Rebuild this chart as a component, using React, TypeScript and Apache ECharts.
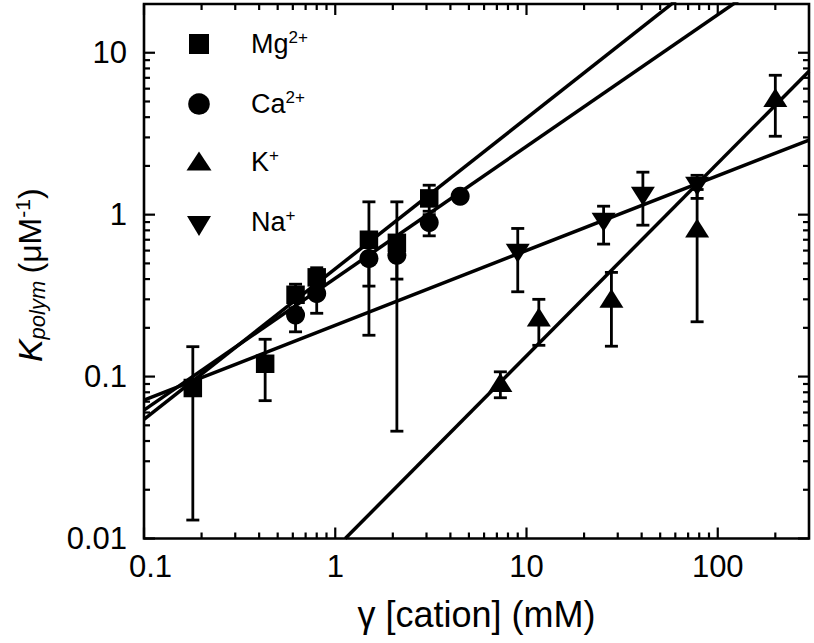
import React, { useEffect, useRef } from 'react';
import * as echarts from 'echarts';

// ---- data ----
const mgX = [0.18, 0.43, 0.62, 0.8, 1.5, 2.1, 3.1];
const mgY = [0.085, 0.12, 0.32, 0.41, 0.7, 0.67, 1.26];
const mgLow = [0.013, 0.071, 0.265, 0.36, 0.18, 0.046, 1.0];
const mgHigh = [0.153, 0.17, 0.372, 0.47, 1.2, 1.2, 1.52];

const caX = [0.62, 0.8, 1.5, 2.1, 3.1, 4.5];
const caY = [0.24, 0.326, 0.536, 0.562, 0.895, 1.3];
const caLow = [0.189, 0.246, 0.362, 0.4, 0.74, 1.25];
const caHigh = [0.29, 0.41, 0.71, 0.72, 1.05, 1.35];

const kX = [7.3, 11.6, 27.8, 78, 200];
const kY = [0.092, 0.233, 0.305, 0.826, 5.3];
const kLow = [0.074, 0.156, 0.154, 0.218, 3.05];
const kHigh = [0.107, 0.3, 0.44, 1.43, 7.26];

const naX = [9, 25.3, 40.6, 78];
const naY = [0.578, 0.899, 1.3, 1.5];
const naLow = [0.334, 0.658, 0.861, 1.26];
const naHigh = [0.822, 1.128, 1.83, 1.75];

// fitted power-law lines (end points)
const mgFit = [[0.1, 0.0544], [300, 93.2]];
const caFit = [[0.1, 0.0621], [300, 42.0]];
const naFit = [[0.1, 0.0716], [300, 2.89]];
const kFit = [[1.128, 0.01], [300, 7.68]];

// axes
const X_MIN = 0.1;
const X_MAX = 300;
const Y_MIN = 0.01;
const Y_MAX = 20;
const xTickValues = [0.1, 1, 10, 100];
const xTickLabels = ['0.1', '1', '10', '100'];
const yTickValues = [0.01, 0.1, 1, 10];
const yTickLabels = ['0.01', '0.1', '1', '10'];
const xMinorTicks = [0.2, 0.3, 0.4, 0.5, 0.6, 0.7, 0.8, 0.9, 2, 3, 4, 5, 6, 7, 8, 9, 20, 30, 40, 50, 60, 70, 80, 90, 200];
const yMinorTicks = [0.02, 0.03, 0.04, 0.05, 0.06, 0.07, 0.08, 0.09, 0.2, 0.3, 0.4, 0.5, 0.6, 0.7, 0.8, 0.9, 2, 3, 4, 5, 6, 7, 8, 9];

const FONT = "'Liberation Sans', Arial, Helvetica, sans-serif";

const matchIdx = (vals: number[], v: number) =>
  vals.findIndex((t) => Math.abs(Math.log10(t) - Math.log10(v)) < 1e-6);

const errorBarSeries = (name: string, xs: number[], lo: number[], hi: number[]) => ({
  name,
  type: 'custom',
  z: 2,
  silent: true,
  data: xs.map((x, i) => [x, lo[i], hi[i]]),
  encode: { x: 0, y: [1, 2] },
  renderItem: (_p: any, api: any) => {
    const a = api.coord([api.value(0), api.value(1)]);
    const b = api.coord([api.value(0), api.value(2)]);
    const cap = 6.5;
    const st = { stroke: '#000', lineWidth: 2.8 };
    return {
      type: 'group',
      children: [
        { type: 'line', shape: { x1: a[0], y1: a[1], x2: b[0], y2: b[1] }, style: st },
        { type: 'line', shape: { x1: a[0] - cap, y1: a[1], x2: a[0] + cap, y2: a[1] }, style: st },
        { type: 'line', shape: { x1: b[0] - cap, y1: b[1], x2: b[0] + cap, y2: b[1] }, style: st },
      ],
    };
  },
});

const fitSeries = (name: string, pts: number[][]) => ({
  name,
  type: 'line',
  z: 3,
  data: pts,
  showSymbol: false,
  symbol: 'none',
  clip: true,
  silent: true,
  lineStyle: { color: '#000', width: 3.5, opacity: 1 },
});

const scatterStyle = { color: '#000', opacity: 1 };

export default function App() {
  const ref = useRef<HTMLDivElement>(null);

  useEffect(() => {
    document.body.style.margin = '0';
    if (!ref.current) return;
    const chart = echarts.init(ref.current, undefined, { renderer: 'svg' });

    const tickStyle = { stroke: '#000', lineWidth: 2.2 };

    const option: any = {
      animation: false,
      backgroundColor: '#fff',
      grid: {
        left: 144,
        right: 5,
        top: 4,
        bottom: 104.5,
        show: true,
        borderColor: '#000',
        borderWidth: 2.6,
        backgroundColor: 'transparent',
      },
      xAxis: {
        type: 'log',
        logBase: 10,
        min: X_MIN,
        max: X_MAX,
        axisLine: { show: false },
        axisTick: { show: false },
        splitLine: { show: false },
        axisLabel: {
          margin: 12,
          color: '#000',
          fontFamily: FONT,
          fontSize: 31,
          formatter: (v: number) => {
            const i = matchIdx(xTickValues, v);
            if (i < 0) return '';
            return i === 0 ? `{f|${xTickLabels[i]}}` : `{n|${xTickLabels[i]}}`;
          },
          rich: {
            n: { fontSize: 31, fontFamily: FONT, color: '#000' },
            f: { fontSize: 31, fontFamily: FONT, color: '#000', padding: [0, 0, 0, 13] },
          },
        },
        name: 'γ [cation] (mM)',
        nameLocation: 'middle',
        nameGap: 58,
        nameTextStyle: { fontSize: 36, fontFamily: FONT, color: '#000' },
      },
      yAxis: {
        type: 'log',
        logBase: 10,
        min: Y_MIN,
        max: Y_MAX,
        axisLine: { show: false },
        axisTick: { show: false },
        splitLine: { show: false },
        axisLabel: {
          margin: 17,
          color: '#000',
          fontFamily: FONT,
          fontSize: 31,
          formatter: (v: number) => {
            const i = matchIdx(yTickValues, v);
            return i < 0 ? '' : yTickLabels[i];
          },
        },
        name: '{k|K}{s|polym}{g| }{p|(μM}{u|-1}{p|)}',
        nameLocation: 'middle',
        nameGap: 96,
        nameTextStyle: {
          fontFamily: FONT,
          color: '#000',
          padding: [0, 8, 0, 0],
          rich: {
            k: { fontSize: 34, fontStyle: 'italic', fontFamily: FONT, color: '#000', lineHeight: 36 },
            s: { fontSize: 22, fontStyle: 'italic', fontFamily: FONT, color: '#000', verticalAlign: 'bottom', lineHeight: 36 },
            g: { fontSize: 26, fontFamily: FONT, color: '#000', lineHeight: 36 },
            p: { fontSize: 32, fontFamily: FONT, color: '#000', lineHeight: 36 },
            u: { fontSize: 21, fontFamily: FONT, color: '#000', verticalAlign: 'top', lineHeight: 36 },
          },
        },
      },
      graphic: [
        { type: 'rect', shape: { x: 189, y: 34, width: 20, height: 20 }, style: { fill: '#000' } },
        { type: 'circle', shape: { cx: 199, cy: 104, r: 10.8 }, style: { fill: '#000' } },
        { type: 'polygon', shape: { points: [[199, 151.5], [211.5, 170.5], [186.5, 170.5]] }, style: { fill: '#000' } },
        { type: 'polygon', shape: { points: [[187, 216], [211, 216], [199, 236]] }, style: { fill: '#000' } },
        ...[
          ['Mg', '2+', 44],
          ['Ca', '2+', 104],
          ['K', '+', 162],
          ['Na', '+', 222],
        ].map(([b, s, y]) => ({
          type: 'text',
          x: 251,
          y: y as number,
          style: {
            text: `{b|${b}}{s|${s}}`,
            verticalAlign: 'middle',
            rich: {
              b: { fontSize: 27, fontFamily: FONT, fill: '#000', lineHeight: 30 },
              s: { fontSize: 17, fontFamily: FONT, fill: '#000', verticalAlign: 'top', lineHeight: 30 },
            },
          },
        })),
      ],
      series: [
        // axis ticks (all four sides, pointing inward)
        {
          name: 'xticks',
          type: 'custom',
          z: 5,
          silent: true,
          data: [
            ...xTickValues.map((v) => [v, Y_MIN, 1]),
            ...xMinorTicks.map((v) => [v, Y_MIN, 0]),
          ],
          renderItem: (_p: any, api: any) => {
            const len = api.value(2) === 1 ? 11 : 6;
            const b = api.coord([api.value(0), Y_MIN]);
            const t = api.coord([api.value(0), Y_MAX]);
            return {
              type: 'group',
              children: [
                { type: 'line', shape: { x1: b[0], y1: b[1], x2: b[0], y2: b[1] - len }, style: tickStyle },
                { type: 'line', shape: { x1: t[0], y1: t[1], x2: t[0], y2: t[1] + len }, style: tickStyle },
              ],
            };
          },
        },
        {
          name: 'yticks',
          type: 'custom',
          z: 5,
          silent: true,
          data: [
            ...yTickValues.map((v) => [X_MIN, v, 1]),
            ...yMinorTicks.map((v) => [X_MIN, v, 0]),
          ],
          renderItem: (_p: any, api: any) => {
            const len = api.value(2) === 1 ? 11 : 6;
            const l = api.coord([X_MIN, api.value(1)]);
            const r = api.coord([X_MAX, api.value(1)]);
            return {
              type: 'group',
              children: [
                { type: 'line', shape: { x1: l[0], y1: l[1], x2: l[0] + len, y2: l[1] }, style: tickStyle },
                { type: 'line', shape: { x1: r[0], y1: r[1], x2: r[0] - len, y2: r[1] }, style: tickStyle },
              ],
            };
          },
        },
        errorBarSeries('Mg err', mgX, mgLow, mgHigh),
        errorBarSeries('Ca err', caX, caLow, caHigh),
        errorBarSeries('K err', kX, kLow, kHigh),
        errorBarSeries('Na err', naX, naLow, naHigh),
        fitSeries('Mg fit', mgFit),
        fitSeries('Ca fit', caFit),
        fitSeries('Na fit', naFit),
        fitSeries('K fit', kFit),
        {
          name: 'Mg2+',
          type: 'scatter',
          z: 4,
          symbol: 'rect',
          symbolSize: 18.5,
          itemStyle: scatterStyle,
          data: mgX.map((x, i) => [x, mgY[i]]),
        },
        {
          name: 'Ca2+',
          type: 'scatter',
          z: 4,
          symbol: 'circle',
          symbolSize: 19,
          itemStyle: scatterStyle,
          data: caX.map((x, i) => [x, caY[i]]),
        },
        {
          name: 'K+',
          type: 'scatter',
          z: 4,
          symbol: 'triangle',
          symbolSize: [24, 19],
          itemStyle: scatterStyle,
          data: kX.map((x, i) => [x, kY[i]]),
        },
        {
          name: 'Na+',
          type: 'scatter',
          z: 4,
          symbol: 'triangle',
          symbolRotate: 180,
          symbolSize: [24, 19],
          itemStyle: scatterStyle,
          data: naX.map((x, i) => [x, naY[i]]),
        },
      ],
    };

    chart.setOption(option);
    return () => chart.dispose();
  }, []);

  return <div ref={ref} style={{ width: 814, height: 643 }} />;
}
